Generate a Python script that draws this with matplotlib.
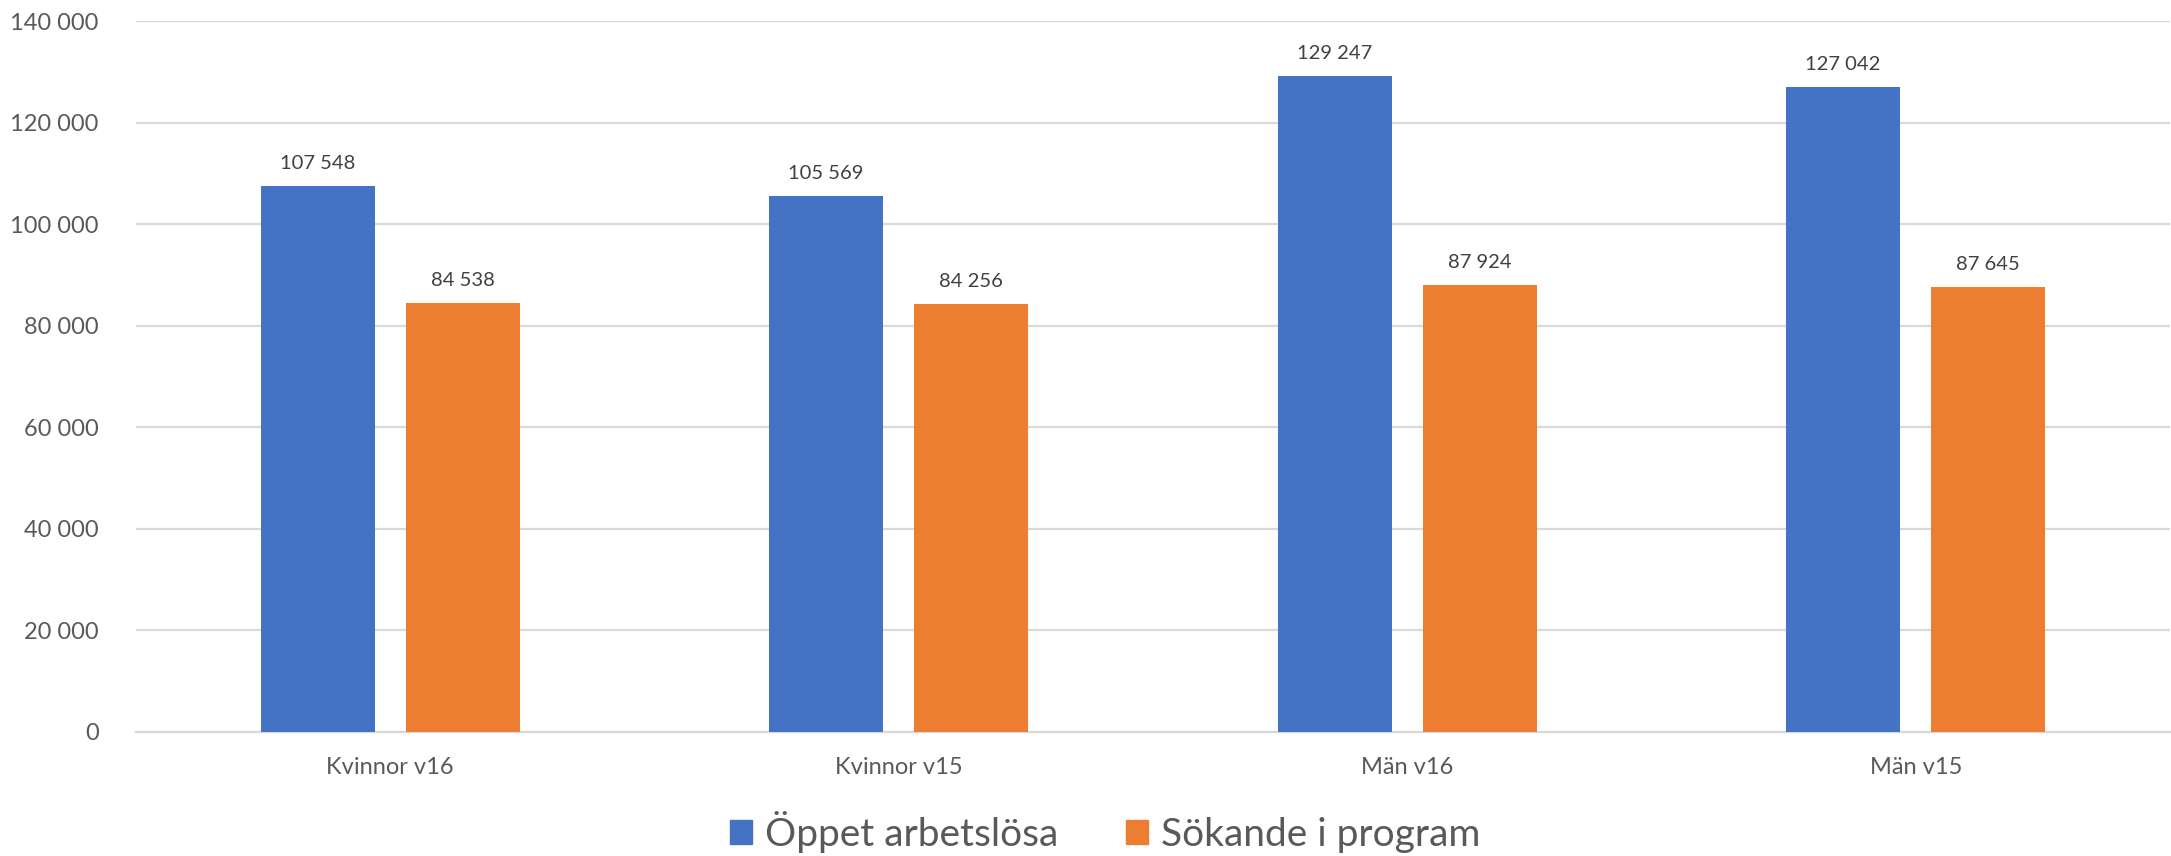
import matplotlib

matplotlib.use("Agg")
import matplotlib.pyplot as plt
import numpy as np
from matplotlib.patches import Patch
from matplotlib.ticker import FuncFormatter

categories = ["Kvinnor v16", "Kvinnor v15", "Män v16", "Män v15"]
oppet = [107548, 105569, 129247, 127042]
sokande = [84538, 84256, 87924, 87645]
series_names = ["Öppet arbetslösa", "Sökande i program"]

BLUE = "#4472c4"
ORANGE = "#ed7d31"
TEXT = "#595959"

plt.rcParams["font.family"] = ["Lato", "DejaVu Sans"]


def fmt_thousands(v, _pos=None):
    return f"{int(round(v)):,}".replace(",", " ")


fig = plt.figure(figsize=(21.71, 8.56), dpi=100)
ax = fig.add_axes([136 / 2171, 1 - 732 / 856, 2034 / 2171, 711 / 856])

x = np.arange(len(categories))
width = 0.224
offset = 0.1427
bars_a = ax.bar(x - offset, oppet, width, color=BLUE, zorder=3)
bars_b = ax.bar(x + offset, sokande, width, color=ORANGE, zorder=3)

for bars in (bars_a, bars_b):
    for bar in bars:
        h = bar.get_height()
        ax.annotate(
            fmt_thousands(h),
            (bar.get_x() + bar.get_width() / 2, h),
            xytext=(0, 14),
            textcoords="offset pixels",
            ha="center",
            va="bottom",
            fontsize=14.5,
            color="#404040",
        )

ax.set_xlim(-0.5, len(categories) - 0.5)
ax.set_ylim(0, 140000)
ax.set_yticks(np.arange(0, 140001, 20000))
ax.yaxis.set_major_formatter(FuncFormatter(fmt_thousands))
ax.set_xticks(x)
ax.set_xticklabels(categories)
ax.tick_params(axis="both", length=0, labelsize=17, labelcolor=TEXT)
ax.tick_params(axis="y", pad=27)
ax.tick_params(axis="x", pad=18)
ax.grid(axis="y", color="#d9d9d9", linewidth=1.6, zorder=0)
for side in ["top", "right", "left"]:
    ax.spines[side].set_visible(False)
ax.spines["bottom"].set_color("#d9d9d9")
ax.spines["bottom"].set_linewidth(1.6)

handles = [Patch(color=BLUE), Patch(color=ORANGE)]
fig.legend(
    handles,
    series_names,
    loc="center",
    bbox_to_anchor=(1105 / 2171, 1 - 832 / 856),
    ncol=2,
    frameon=False,
    fontsize=28,
    labelcolor=TEXT,
    handlelength=0.57,
    handleheight=0.57,
    handletextpad=0.32,
    columnspacing=1.75,
)

fig.savefig("out.png", dpi=100)
